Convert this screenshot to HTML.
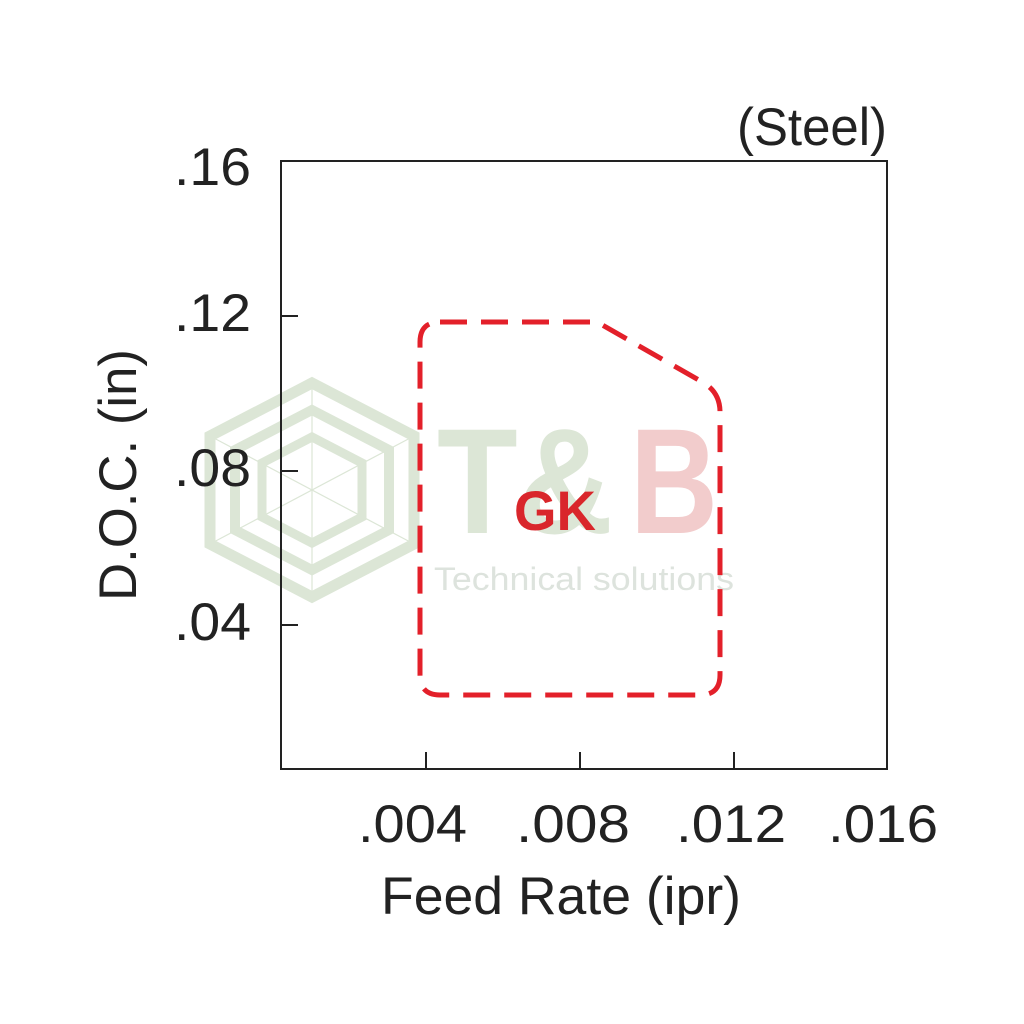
<!DOCTYPE html>
<html><head><meta charset="utf-8"><style>html,body{margin:0;padding:0;background:#fff}svg{display:block}</style></head>
<body>
<svg width="1024" height="1024" viewBox="0 0 1024 1024" xmlns="http://www.w3.org/2000/svg" font-family="Liberation Sans, sans-serif">
<rect width="1024" height="1024" fill="#fff"/>
<!-- watermark hexagons -->
<g fill="none" stroke="#dce6d6">
<polygon stroke-width="11" points="312,383 414,436 414,544 312,597 210,544 210,436"/>
<polygon stroke-width="10" points="312,410 389,450 389,530 312,570 235,530 235,450"/>
<polygon stroke-width="9" points="312,437 362,463 362,517 312,543 262,517 262,463"/>
<g stroke-width="1.2"><line x1="312" y1="383" x2="312" y2="597"/><line x1="210" y1="436" x2="414" y2="544"/><line x1="414" y1="436" x2="210" y2="544"/></g>
</g>
<text x="437" y="533" font-size="150" font-weight="bold" fill="#dce6d6" textLength="176" lengthAdjust="spacingAndGlyphs">T&amp;</text>
<text x="630" y="533" font-size="150" font-weight="bold" fill="#f2cccc" textLength="88" lengthAdjust="spacingAndGlyphs">B</text>
<text x="434" y="590" font-size="32" fill="#dde3dd" textLength="300" lengthAdjust="spacingAndGlyphs">Technical solutions</text>
<!-- axes -->
<rect x="281" y="161" width="606" height="608" fill="none" stroke="#222" stroke-width="2"/>
<g stroke="#222" stroke-width="2">
<line x1="281" y1="316" x2="298" y2="316"/><line x1="281" y1="471" x2="298" y2="471"/><line x1="281" y1="625" x2="298" y2="625"/>
<line x1="426" y1="769" x2="426" y2="752"/><line x1="580" y1="769" x2="580" y2="752"/><line x1="734" y1="769" x2="734" y2="752"/>
</g>
<g font-size="53" fill="#222">
<text x="174" y="185" textLength="77" lengthAdjust="spacingAndGlyphs">.16</text>
<text x="174" y="331" textLength="77" lengthAdjust="spacingAndGlyphs">.12</text>
<text x="174" y="486" textLength="77" lengthAdjust="spacingAndGlyphs">.08</text>
<text x="174" y="640" textLength="77" lengthAdjust="spacingAndGlyphs">.04</text>
<text x="358" y="842" textLength="109" lengthAdjust="spacingAndGlyphs">.004</text>
<text x="516" y="842" textLength="114" lengthAdjust="spacingAndGlyphs">.008</text>
<text x="676" y="842" textLength="110" lengthAdjust="spacingAndGlyphs">.012</text>
<text x="828" y="842" textLength="110" lengthAdjust="spacingAndGlyphs">.016</text>
<text x="381" y="914" textLength="360" lengthAdjust="spacingAndGlyphs">Feed Rate (ipr)</text>
<text x="737" y="145" textLength="150" lengthAdjust="spacingAndGlyphs">(Steel)</text>
<text transform="translate(136,601) rotate(-90)" x="0" y="0" textLength="252" lengthAdjust="spacingAndGlyphs">D.O.C. (in)</text>
</g>
<!-- GK region -->
<path d="M440,322 L597,322 L704,383 Q720,393 720,412 L720,675 Q720,695 700,695 L440,695 Q420,695 420,675 L420,342 Q420,322 440,322 Z" fill="none" stroke="#e3202a" stroke-width="5" stroke-dasharray="27,14"/>
<text x="514" y="530" font-size="56" font-weight="bold" fill="#d9262b" textLength="82" lengthAdjust="spacingAndGlyphs">GK</text>
</svg>
</body></html>
